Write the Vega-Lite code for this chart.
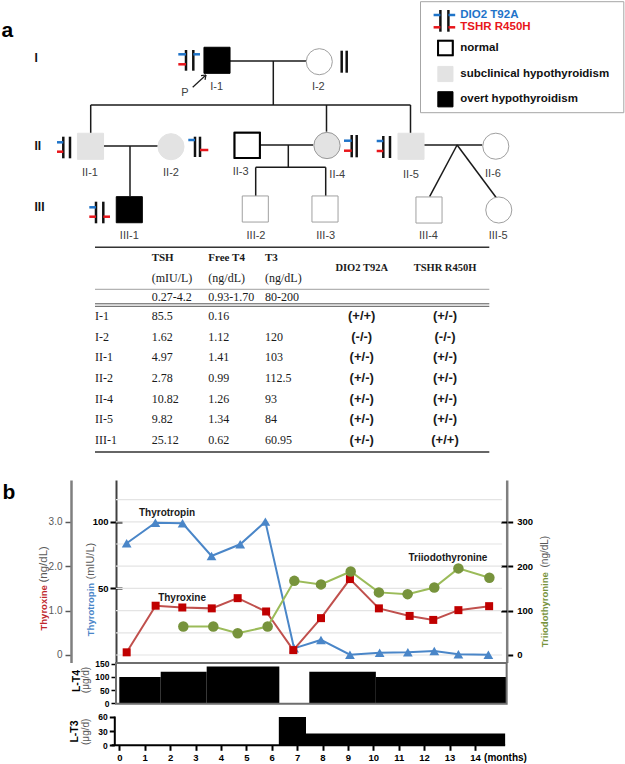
{
"$schema":"https://vega.github.io/schema/vega-lite/v6.json",
"padding":0,
"background":"white",
"config":{"view":{"stroke":null},"font":"Liberation Sans","axis":{"labelFont":"Liberation Sans","titleFont":"Liberation Sans"}},
"datasets":{
"legendBox":[{"x":420.5,"y":1.7,"x2":623.8,"y2":112.7}],
"people":[
{"id":"I-1","x":217,"y":60.3,"sex":"male","status":"overt"},
{"id":"I-2","x":319.3,"y":61.7,"sex":"female","status":"unknown"},
{"id":"II-1","x":90.5,"y":146.3,"sex":"male","status":"subclinical"},
{"id":"II-2","x":171,"y":146.7,"sex":"female","status":"subclinical"},
{"id":"II-3","x":247.2,"y":145.3,"sex":"male","status":"normal"},
{"id":"II-4","x":327,"y":145.5,"sex":"female","status":"subclinical"},
{"id":"II-5","x":411,"y":146.3,"sex":"male","status":"subclinical"},
{"id":"II-6","x":495.8,"y":146.2,"sex":"female","status":"unknown"},
{"id":"III-1","x":129.3,"y":209.7,"sex":"male","status":"overt"},
{"id":"III-2","x":255.3,"y":209,"sex":"male","status":"unknown"},
{"id":"III-3","x":325,"y":209,"sex":"male","status":"unknown"},
{"id":"III-4","x":429,"y":210,"sex":"male","status":"unknown"},
{"id":"III-5","x":498.8,"y":210,"sex":"female","status":"unknown"}],
"lines":[
{"x":230,"y":61,"x2":306,"y2":61},
{"x":273.3,"y":61,"x2":273.3,"y2":105},
{"x":90.7,"y":105,"x2":410.5,"y2":105},
{"x":90.7,"y":105,"x2":90.7,"y2":133.3},
{"x":326.5,"y":105,"x2":326.5,"y2":131.7},
{"x":410.5,"y":105,"x2":410.5,"y2":133.3},
{"x":102.7,"y":146,"x2":157.7,"y2":146},
{"x":130,"y":146,"x2":130,"y2":196},
{"x":259.3,"y":145,"x2":313.3,"y2":145},
{"x":288.3,"y":145,"x2":288.3,"y2":167.3},
{"x":255.7,"y":167.3,"x2":325.7,"y2":167.3},
{"x":255.7,"y":167.3,"x2":255.7,"y2":196},
{"x":325.7,"y":167.3,"x2":325.7,"y2":196},
{"x":423.3,"y":145,"x2":482.3,"y2":145},
{"x":457.1,"y":145,"x2":429.6,"y2":196.7},
{"x":457.1,"y":145,"x2":496.5,"y2":198}],
"bars":[
{"x":186,"y":50,"y2":70.7},{"x":193.3,"y":50,"y2":70.7},
{"x":341.7,"y":50.7,"y2":72.7},{"x":346.7,"y":50.7,"y2":72.7},
{"x":63.3,"y":136.7,"y2":158.3},{"x":70,"y":136.7,"y2":158.3},
{"x":195,"y":136.7,"y2":157},{"x":200,"y":136.7,"y2":157},
{"x":351.7,"y":135,"y2":157.3},{"x":356.7,"y":135,"y2":157.3},
{"x":383.3,"y":136,"y2":158},{"x":390,"y":136,"y2":158},
{"x":96,"y":201.7,"y2":223.3},{"x":103.3,"y":201.7,"y2":223.3},
{"x":440.4,"y":10,"y2":31.7},{"x":448.4,"y":10,"y2":31.7}],
"alleleTicks":[
{"allele":"DIO2","x":178.3,"x2":186,"y":54.3},
{"allele":"DIO2","x":193.3,"x2":200,"y":54.3},
{"allele":"TSHR","x":178.3,"x2":186,"y":64.3},
{"allele":"DIO2","x":57,"x2":63.3,"y":142.3},
{"allele":"TSHR","x":57,"x2":63.3,"y":151.7},
{"allele":"DIO2","x":188.3,"x2":195,"y":140},
{"allele":"TSHR","x":200,"x2":208.3,"y":150},
{"allele":"DIO2","x":344,"x2":351.7,"y":140.7},
{"allele":"TSHR","x":344,"x2":351.7,"y":150.7},
{"allele":"DIO2","x":376.7,"x2":383.3,"y":141},
{"allele":"TSHR","x":376.7,"x2":383.3,"y":151},
{"allele":"DIO2","x":89.3,"x2":96,"y":207.3},
{"allele":"TSHR","x":89.3,"x2":96,"y":216.7},
{"allele":"TSHR","x":103.3,"x2":110,"y":216.7},
{"allele":"DIO2","x":433.6,"x2":440.4,"y":15},
{"allele":"DIO2","x":448.4,"x2":455.2,"y":15},
{"allele":"TSHR","x":433.6,"x2":440.4,"y":27.3},
{"allele":"TSHR","x":448.4,"x2":455.2,"y":27.3}],
"arrow":[{"x":192.7,"y":87.3,"x2":206,"y2":75},{"x":206,"y":75,"x2":201,"y2":75.7},{"x":206,"y":75,"x2":205,"y2":79.9}],
"plabels":[
{"x":216.7,"y":87.3,"t":"I-1"},{"x":318.3,"y":87.3,"t":"I-2"},{"x":185,"y":92.7,"t":"P"},
{"x":90,"y":172.7,"t":"II-1"},{"x":171,"y":172.7,"t":"II-2"},{"x":240.7,"y":172.3,"t":"II-3"},{"x":337.3,"y":175,"t":"II-4"},{"x":411,"y":174.5,"t":"II-5"},{"x":493,"y":174,"t":"II-6"},
{"x":129.3,"y":236,"t":"III-1"},{"x":256,"y":236,"t":"III-2"},{"x":325.7,"y":236,"t":"III-3"},{"x":428.5,"y":236,"t":"III-4"},{"x":498.2,"y":236,"t":"III-5"}],
"gens":[{"x":34.5,"y":57.7,"t":"I"},{"x":34.5,"y":145.7,"t":"II"},{"x":34.5,"y":206.7,"t":"III"}],
"panelA":[{"x":1.5,"y":36.7,"t":"a"}],
"legendSymbols":[{"x":445.4,"y":48,"status":"normal"},{"x":445.4,"y":74,"status":"subclinical"},{"x":445.4,"y":99.3,"status":"overt"}],
"legendAllele":[{"x":460.3,"y":15,"t":"DIO2 T92A","allele":"DIO2"},{"x":460.3,"y":27.3,"t":"TSHR R450H","allele":"TSHR"}],
"legendStatusText":[{"x":460.3,"y":47.7,"t":"normal"},{"x":460.3,"y":74,"t":"subclinical hypothyroidism"},{"x":460.3,"y":99.3,"t":"overt hypothyroidism"}],
"table":[
{"id":"I-1","TSH":"85.5","FT4":"0.16","T3":"","DIO2":"(+/+)","TSHR":"(+/-)"},
{"id":"I-2","TSH":"1.62","FT4":"1.12","T3":"120","DIO2":"(-/-)","TSHR":"(-/-)"},
{"id":"II-1","TSH":"4.97","FT4":"1.41","T3":"103","DIO2":"(+/-)","TSHR":"(+/-)"},
{"id":"II-2","TSH":"2.78","FT4":"0.99","T3":"112.5","DIO2":"(+/-)","TSHR":"(+/-)"},
{"id":"II-4","TSH":"10.82","FT4":"1.26","T3":"93","DIO2":"(+/-)","TSHR":"(+/-)"},
{"id":"II-5","TSH":"9.82","FT4":"1.34","T3":"84","DIO2":"(+/-)","TSHR":"(+/-)"},
{"id":"III-1","TSH":"25.12","FT4":"0.62","T3":"60.95","DIO2":"(+/-)","TSHR":"(+/+)"}],
"headNames":[{"hl":"name","col":"TSH","t":"TSH"},{"hl":"name","col":"FT4","t":"Free T4"},{"hl":"name","col":"T3","t":"T3"}],
"headUnits":[{"hl":"unit","col":"TSH","t":"(mIU/L)"},{"hl":"unit","col":"FT4","t":"(ng/dL)"},{"hl":"unit","col":"T3","t":"(ng/dL)"},{"hl":"ref","col":"TSH","t":"0.27-4.2"},{"hl":"ref","col":"FT4","t":"0.93-1.70"},{"hl":"ref","col":"T3","t":"80-200"}],
"headGeno":[{"hl":"name","col":"DIO2","t":"DIO2 T92A"},{"hl":"name","col":"TSHR","t":"TSHR R450H"}],
"grid":[{"g":0},{"g":50},{"g":100},{"g":150},{"g":200},{"g":250},{"g":300},{"g":350}],
"tsh":[{"month":0.29,"value":83.9},{"month":1.42,"value":99.3},{"month":2.49,"value":98.9},{"month":3.63,"value":74.3},{"month":4.76,"value":83.1},{"month":5.75,"value":100.1},{"month":6.88,"value":5.0},{"month":7.94,"value":11.3},{"month":9.08,"value":0.2},{"month":10.25,"value":1.7},{"month":11.36,"value":2.0},{"month":12.4,"value":3.0},{"month":13.35,"value":0.5},{"month":14.53,"value":0.2}],
"t4":[{"month":0.29,"value":0.06},{"month":1.43,"value":1.11},{"month":2.48,"value":1.07},{"month":3.64,"value":1.05},{"month":4.66,"value":1.28},{"month":5.78,"value":0.98},{"month":6.85,"value":0.11},{"month":7.94,"value":0.83},{"month":9.08,"value":1.71},{"month":10.22,"value":1.05},{"month":11.43,"value":0.88},{"month":12.36,"value":0.79},{"month":13.35,"value":1.01},{"month":14.56,"value":1.10}],
"t3":[{"month":2.52,"value":64},{"month":3.7,"value":64},{"month":4.66,"value":49},{"month":5.84,"value":64},{"month":6.89,"value":167},{"month":7.94,"value":159},{"month":9.11,"value":188},{"month":10.22,"value":141},{"month":11.35,"value":137},{"month":12.4,"value":152},{"month":13.35,"value":195},{"month":14.57,"value":174}],
"lt4":[{"start":0,"end":1.63,"dose":100},{"start":1.63,"end":3.44,"dose":120},{"start":3.44,"end":6.3,"dose":140},{"start":7.48,"end":10.1,"dose":120},{"start":10.1,"end":15.25,"dose":100}],
"lt3":[{"start":6.28,"end":7.35,"dose":60},{"start":7.35,"end":15.19,"dose":25}]
},
"spacing":0,
"bounds":"flush",
"vconcat":[
{
"width":625,"height":244,
"encoding":{
"x":{"field":"x","type":"quantitative","scale":{"domain":[0,625],"nice":false,"zero":false},"axis":null},
"y":{"field":"y","type":"quantitative","scale":{"domain":[0,244],"nice":false,"zero":false,"reverse":true},"axis":null}},
"layer":[
{"data":{"name":"legendBox"},"mark":{"type":"rect","fill":"#ffffff","stroke":"#a6a6a6","strokeWidth":1},"encoding":{"x2":{"field":"x2"},"y2":{"field":"y2"}}},
{"data":{"name":"lines"},"mark":{"type":"rule","stroke":"#1a1a1a","strokeWidth":1.5},"encoding":{"x2":{"field":"x2"},"y2":{"field":"y2"}}},
{"data":{"name":"people"},"mark":{"type":"point","filled":true,"opacity":1,"size":680,"strokeWidth":1},
"encoding":{"shape":{"field":"sex","type":"nominal","scale":{"domain":["male","female"],"range":["square","circle"]},"legend":null},
"fill":{"field":"status","type":"nominal","scale":{"domain":["overt","subclinical","normal","unknown"],"range":["#000000","#e3e3e3","#ffffff","#ffffff"]},"legend":null},
"stroke":{"field":"status","type":"nominal","scale":{"domain":["overt","subclinical","normal","unknown"],"range":["#000000","#e3e3e3","#000000","#a0a0a0"]},"legend":null}}},
{"data":{"name":"people"},"transform":[{"filter":"datum.status === 'normal'"}],"mark":{"type":"point","shape":"square","filled":false,"opacity":1,"size":640,"stroke":"#000000","strokeWidth":2}},
{"data":{"name":"people"},"transform":[{"filter":"datum.id === 'II-4'"}],"mark":{"type":"point","shape":"circle","filled":false,"opacity":1,"size":690,"stroke":"#9a9a9a","strokeWidth":1}},
{"data":{"name":"legendSymbols"},"mark":{"type":"point","shape":"square","filled":true,"opacity":1,"size":230,"strokeWidth":1},
"encoding":{"fill":{"field":"status","type":"nominal","scale":{"domain":["overt","subclinical","normal","unknown"],"range":["#000000","#e3e3e3","#ffffff","#ffffff"]},"legend":null},
"stroke":{"field":"status","type":"nominal","scale":{"domain":["overt","subclinical","normal","unknown"],"range":["#000000","#e3e3e3","#000000","#a0a0a0"]},"legend":null}}},
{"data":{"name":"legendSymbols"},"transform":[{"filter":"datum.status === 'normal'"}],"mark":{"type":"point","shape":"square","filled":false,"opacity":1,"size":215,"stroke":"#000000","strokeWidth":2}},
{"data":{"name":"bars"},"mark":{"type":"rule","stroke":"#111111","strokeWidth":2.5},"encoding":{"y2":{"field":"y2"}}},
{"data":{"name":"alleleTicks"},"mark":{"type":"rule","strokeWidth":2.5},"encoding":{"x2":{"field":"x2"},"color":{"field":"allele","type":"nominal","scale":{"domain":["DIO2","TSHR"],"range":["#1f74c9","#e8161b"]},"legend":null}}},
{"data":{"name":"arrow"},"mark":{"type":"rule","stroke":"#1a1a1a","strokeWidth":1.2},"encoding":{"x2":{"field":"x2"},"y2":{"field":"y2"}}},
{"data":{"name":"plabels"},"mark":{"type":"text","fontSize":11,"color":"#404040","align":"center","baseline":"middle"},"encoding":{"text":{"field":"t"}}},
{"data":{"name":"gens"},"mark":{"type":"text","fontSize":12,"fontWeight":"bold","color":"#111111","align":"left","baseline":"middle"},"encoding":{"text":{"field":"t"}}},
{"data":{"name":"panelA"},"mark":{"type":"text","fontSize":21,"fontWeight":"bold","color":"#000000","align":"left","baseline":"alphabetic"},"encoding":{"text":{"field":"t"}}},
{"data":{"name":"legendAllele"},"mark":{"type":"text","fontSize":11.5,"fontWeight":"bold","align":"left","baseline":"middle"},"encoding":{"text":{"field":"t"},"color":{"field":"allele","type":"nominal","scale":{"domain":["DIO2","TSHR"],"range":["#1f74c9","#e8161b"]},"legend":null}}},
{"data":{"name":"legendStatusText"},"mark":{"type":"text","fontSize":11.5,"fontWeight":"bold","color":"#111111","align":"left","baseline":"middle"},"encoding":{"text":{"field":"t"}}}
]
},
{
"width":625,"height":236,
"layer":[
{"data":{"values":[{}]},"layer":[
{"mark":{"type":"rule","stroke":"#333333","strokeWidth":1.5},"encoding":{"x":{"datum":95,"type":"quantitative","scale":{"domain":[0,625],"nice":false,"zero":false},"axis":null},"x2":{"datum":489.3},"y":{"datum":3.3,"type":"quantitative","scale":{"domain":[0,236],"nice":false,"zero":false,"reverse":true},"axis":null}}},
{"mark":{"type":"rule","stroke":"#888888","strokeWidth":0.8},"encoding":{"x":{"datum":95,"type":"quantitative","axis":null},"x2":{"datum":489.3},"y":{"datum":45.3,"type":"quantitative","axis":null}}},
{"mark":{"type":"rule","stroke":"#555555","strokeWidth":1},"encoding":{"x":{"datum":95,"type":"quantitative","axis":null},"x2":{"datum":489.3},"y":{"datum":59.8,"type":"quantitative","axis":null}}},
{"mark":{"type":"rule","stroke":"#555555","strokeWidth":1},"encoding":{"x":{"datum":95,"type":"quantitative","axis":null},"x2":{"datum":489.3},"y":{"datum":62.3,"type":"quantitative","axis":null}}},
{"mark":{"type":"rule","stroke":"#333333","strokeWidth":1.5},"encoding":{"x":{"datum":95,"type":"quantitative","axis":null},"x2":{"datum":489.3},"y":{"datum":208,"type":"quantitative","axis":null}}}
]},
{"data":{"name":"table"},"transform":[{"fold":["id","TSH","FT4","T3"],"as":["col","val"]}],"mark":{"type":"text","font":"Liberation Serif","fontSize":12,"color":"#1a1a1a","align":"left","baseline":"middle"},
"encoding":{"x":{"field":"col","type":"nominal","scale":{"type":"point","domain":["id","TSH","FT4","T3"],"range":[95,265],"padding":0},"axis":null},
"y":{"field":"id","type":"nominal","scale":{"type":"point","domain":["I-1","I-2","II-1","II-2","II-4","II-5","III-1"],"range":[72,196],"padding":0},"axis":null},
"text":{"field":"val"}}},
{"data":{"name":"table"},"transform":[{"fold":["DIO2","TSHR"],"as":["col","val"]}],"mark":{"type":"text","font":"Liberation Sans","fontSize":13,"fontWeight":"bold","color":"#1a1a1a","align":"center","baseline":"middle"},
"encoding":{"x":{"field":"col","type":"nominal","scale":{"type":"point","domain":["DIO2","TSHR"],"range":[361.7,445],"padding":0},"axis":null},
"y":{"field":"id","type":"nominal","scale":{"type":"point","domain":["I-1","I-2","II-1","II-2","II-4","II-5","III-1"],"range":[72,196],"padding":0},"axis":null},
"text":{"field":"val"}}},
{"data":{"name":"headNames"},"mark":{"type":"text","font":"Liberation Serif","fontSize":11,"fontWeight":"bold","color":"#1a1a1a","align":"left","baseline":"middle"},
"encoding":{"x":{"field":"col","type":"nominal","scale":{"type":"point","domain":["id","TSH","FT4","T3"],"range":[95,265],"padding":0},"axis":null},
"y":{"field":"hl","type":"nominal","scale":{"type":"point","domain":["name","unit","ref"],"range":[14.3,52.7],"padding":0},"axis":null},
"text":{"field":"t"}}},
{"data":{"name":"headUnits"},"mark":{"type":"text","font":"Liberation Serif","fontSize":12,"color":"#1a1a1a","align":"left","baseline":"middle"},
"encoding":{"x":{"field":"col","type":"nominal","scale":{"type":"point","domain":["id","TSH","FT4","T3"],"range":[95,265],"padding":0},"axis":null},
"y":{"field":"hl","type":"nominal","scale":{"type":"point","domain":["name","unit","ref"],"range":[14.3,52.7],"padding":0},"axis":null},
"text":{"field":"t"}}},
{"data":{"name":"headGeno"},"mark":{"type":"text","font":"Liberation Serif","fontSize":10.5,"fontWeight":"bold","color":"#1a1a1a","align":"center","baseline":"middle","dy":10},
"encoding":{"x":{"field":"col","type":"nominal","scale":{"type":"point","domain":["DIO2","TSHR"],"range":[361.7,445],"padding":0},"axis":null},
"y":{"field":"hl","type":"nominal","scale":{"type":"point","domain":["name","unit","ref"],"range":[14.3,52.7],"padding":0},"axis":null},
"text":{"field":"t"}}}
],
"resolve":{"scale":{"x":"independent","y":"independent"}}
},
{
"width":625,"height":182.5,
"layer":[
{"data":{"name":"grid"},"mark":{"type":"rule","stroke":"#e4e4e4","strokeWidth":1.2},
"encoding":{"x":{"datum":-0.13,"type":"quantitative","scale":{"domain":[-4.697,19.909],"nice":false,"zero":false},"axis":null},"x2":{"datum":15.07},
"y":{"field":"g","type":"quantitative","scale":{"domain":[-16.9,394.1],"nice":false,"zero":false},"axis":null}}},
{"layer":[
{"data":{"name":"tsh"},"mark":{"type":"line","color":"#4a86c8","strokeWidth":2},
"encoding":{"x":{"field":"month","type":"quantitative","scale":{"domain":[-4.697,19.909],"nice":false,"zero":false},"axis":null},
"y":{"field":"value","type":"quantitative","scale":{"domain":[-5.633,131.367],"nice":false,"zero":false},
"axis":{"orient":"left","offset":-116,"values":[50,100],"grid":false,"domainColor":"#404040","domainWidth":2,"tickColor":"#000000","tickWidth":2,"tickSize":6,"labelFontSize":9.5,"labelFontWeight":"bold","labelColor":"#000000","labelPadding":2,"labelFlush":false,
"title":"Thyrotropin","titleColor":"#4a86c8","titleFontSize":9.5,"titleFontWeight":"bold","titleAngle":-90,"titleAlign":"left","titleBaseline":"middle","titleX":-26,"titleY":155.7}}}},
{"data":{"name":"tsh"},"mark":{"type":"point","shape":"triangle-up","filled":true,"size":95,"color":"#4a86c8","opacity":1},
"encoding":{"x":{"field":"month","type":"quantitative","scale":{"domain":[-4.697,19.909],"nice":false,"zero":false},"axis":null},"y":{"field":"value","type":"quantitative"}}},
{"data":{"values":[{}]},"mark":{"type":"text","text":"Thyrotropin","fontSize":10,"fontWeight":"bold","color":"#1a1a1a","align":"center","baseline":"middle"},
"encoding":{"x":{"datum":1.88,"type":"quantitative","scale":{"domain":[-4.697,19.909],"nice":false,"zero":false},"axis":null},"y":{"datum":106.4,"type":"quantitative"}}}
]},
{"layer":[
{"data":{"name":"t4"},"mark":{"type":"line","color":"#c0504d","strokeWidth":2},
"encoding":{"x":{"field":"month","type":"quantitative","scale":{"domain":[-4.697,19.909],"nice":false,"zero":false},"axis":null},
"y":{"field":"value","type":"quantitative","scale":{"domain":[-0.169,3.941],"nice":false,"zero":false},
"axis":{"orient":"left","offset":-71,"values":[0,1,2,3],"labelExpr":"datum.value == 0 ? '0' : format(datum.value, '.1f')","grid":false,"domainColor":"#7f7f7f","domainWidth":2.5,"tickColor":"#595959","tickWidth":1.5,"tickSize":6,"labelFontSize":10,"labelColor":"#595959","labelPadding":3,"labelFlush":false,
"title":"Thyroxine","titleColor":"#c0282d","titleFontSize":9.5,"titleFontWeight":"bold","titleAngle":-90,"titleAlign":"left","titleBaseline":"middle","titleX":-28,"titleY":150}}}},
{"data":{"name":"t4"},"mark":{"type":"point","shape":"square","filled":true,"size":64,"color":"#c00000","opacity":1},
"encoding":{"x":{"field":"month","type":"quantitative","scale":{"domain":[-4.697,19.909],"nice":false,"zero":false},"axis":null},"y":{"field":"value","type":"quantitative"}}},
{"data":{"values":[{}]},"mark":{"type":"text","text":"Thyroxine","fontSize":10,"fontWeight":"bold","color":"#1a1a1a","align":"center","baseline":"middle"},
"encoding":{"x":{"datum":2.47,"type":"quantitative","scale":{"domain":[-4.697,19.909],"nice":false,"zero":false},"axis":null},"y":{"datum":1.29,"type":"quantitative"}}},
{"data":{"values":[{}]},"mark":{"type":"text","text":"b","fontSize":21,"fontWeight":"bold","color":"#000000","align":"left","baseline":"alphabetic"},
"encoding":{"x":{"datum":-4.6,"type":"quantitative","scale":{"domain":[-4.697,19.909],"nice":false,"zero":false},"axis":null},"y":{"datum":3.51,"type":"quantitative"}}}
]},
{"layer":[
{"data":{"name":"t3"},"mark":{"type":"line","color":"#9bbb59","strokeWidth":2},
"encoding":{"x":{"field":"month","type":"quantitative","scale":{"domain":[-4.697,19.909],"nice":false,"zero":false},"axis":null},
"y":{"field":"value","type":"quantitative","scale":{"domain":[-16.9,394.1],"nice":false,"zero":false},
"axis":{"orient":"right","offset":-118.3,"values":[0,100,200,300],"grid":false,"domainColor":"#7f7f7f","domainWidth":2.5,"tickColor":"#000000","tickWidth":2,"tickSize":6,"labelFontSize":9.5,"labelFontWeight":"bold","labelColor":"#000000","labelPadding":4,"labelFlush":false,
"title":"Triiodothyronine","titleColor":"#77933c","titleFontSize":9.5,"titleFontWeight":"bold","titleAngle":-90,"titleAlign":"left","titleBaseline":"middle","titleX":37.3,"titleY":166.7}}}},
{"data":{"name":"t3"},"mark":{"type":"circle","size":110,"color":"#77933c","opacity":1},
"encoding":{"x":{"field":"month","type":"quantitative","scale":{"domain":[-4.697,19.909],"nice":false,"zero":false},"axis":null},"y":{"field":"value","type":"quantitative"}}},
{"data":{"values":[{}]},"mark":{"type":"text","text":"Triiodothyronine","fontSize":10,"fontWeight":"bold","color":"#1a1a1a","align":"center","baseline":"middle"},
"encoding":{"x":{"datum":12.94,"type":"quantitative","scale":{"domain":[-4.697,19.909],"nice":false,"zero":false},"axis":null},"y":{"datum":217.7,"type":"quantitative"}}}
]},
{"data":{"values":[{"d":50}]},"mark":{"type":"point","opacity":0},
"encoding":{"x":{"datum":5,"type":"quantitative","scale":{"domain":[-4.697,19.909],"nice":false,"zero":false},"axis":null},
"y":{"field":"d","type":"quantitative","scale":{"domain":[-5.633,131.367],"nice":false,"zero":false},"axis":{"orient":"right","offset":-509,"values":[50,100],"labels":false,"domain":false,"grid":false,"tickColor":"#000000","tickWidth":2,"tickSize":6,"title":null}}}},
{"data":{"values":[{"d":100}]},"mark":{"type":"point","opacity":0},
"encoding":{"x":{"datum":5,"type":"quantitative","scale":{"domain":[-4.697,19.909],"nice":false,"zero":false},"axis":null},
"y":{"field":"d","type":"quantitative","scale":{"domain":[-16.9,394.1],"nice":false,"zero":false},"axis":{"orient":"left","offset":-506.7,"values":[100,200,300],"labels":false,"domain":false,"grid":false,"tickColor":"#000000","tickWidth":2,"tickSize":6,"title":null}}}},
{"data":{"values":[{"d":0.5}]},"mark":{"type":"point","opacity":0},
"encoding":{"x":{"datum":5,"type":"quantitative","scale":{"domain":[-4.697,19.909],"nice":false,"zero":false},"axis":null},
"y":{"field":"d","type":"quantitative","scale":{"domain":[0,1]},"axis":{"orient":"left","offset":-116,"labels":false,"ticks":false,"domain":false,"grid":false,"title":"(mIU/L)","titleColor":"#595959","titleFontSize":11,"titleFontWeight":"normal","titleAngle":-90,"titleAlign":"left","titleBaseline":"middle","titleX":-26,"titleY":99}}}},
{"data":{"values":[{"d":0.5}]},"mark":{"type":"point","opacity":0},
"encoding":{"x":{"datum":5,"type":"quantitative","scale":{"domain":[-4.697,19.909],"nice":false,"zero":false},"axis":null},
"y":{"field":"d","type":"quantitative","scale":{"domain":[0,1]},"axis":{"orient":"left","offset":-71,"labels":false,"ticks":false,"domain":false,"grid":false,"title":"(ng/dL)","titleColor":"#595959","titleFontSize":11.5,"titleFontWeight":"normal","titleAngle":-90,"titleAlign":"left","titleBaseline":"middle","titleX":-28,"titleY":102}}}},
{"data":{"values":[{"d":0.5}]},"mark":{"type":"point","opacity":0},
"encoding":{"x":{"datum":5,"type":"quantitative","scale":{"domain":[-4.697,19.909],"nice":false,"zero":false},"axis":null},
"y":{"field":"d","type":"quantitative","scale":{"domain":[0,1]},"axis":{"orient":"right","offset":-118.3,"labels":false,"ticks":false,"domain":false,"grid":false,"title":"(ng/dL)","titleColor":"#595959","titleFontSize":10,"titleFontWeight":"normal","titleAngle":-90,"titleAlign":"left","titleBaseline":"middle","titleX":37.3,"titleY":87}}}}
],
"resolve":{"scale":{"y":"independent"}}
},
{
"width":625,"height":52.5,
"layer":[
{"layer":[
{"data":{"name":"lt4"},"mark":{"type":"rect","color":"#000000"},
"encoding":{"x":{"field":"start","type":"quantitative","scale":{"domain":[-4.697,19.909],"nice":false,"zero":false},"axis":null},"x2":{"field":"end"},
"y":{"field":"dose","type":"quantitative","scale":{"domain":[-46.8,153],"nice":false,"zero":false},"axis":null},
"y2":{"datum":0}}},
{"data":{"values":[{}]},"mark":{"type":"rect","fill":"transparent","stroke":"#6e6e6e","strokeWidth":2},
"encoding":{"x":{"datum":-0.13,"type":"quantitative","scale":{"domain":[-4.697,19.909],"nice":false,"zero":false},"axis":null},"x2":{"datum":15.25},
"y":{"datum":-2.3,"type":"quantitative","axis":null},"y2":{"datum":153}}}
]},
{"data":{"values":[{"d":50}]},"mark":{"type":"point","opacity":0},
"encoding":{"x":{"datum":5,"type":"quantitative","scale":{"domain":[-4.697,19.909],"nice":false,"zero":false},"axis":null},
"y":{"field":"d","type":"quantitative","scale":{"domain":[-46.8,153],"nice":false,"zero":false},
"axis":{"orient":"left","offset":-115,"values":[0,50,100,150],"domain":false,"grid":false,"tickColor":"#000000","tickWidth":1.5,"tickSize":4,"labelFontSize":8.5,"labelFontWeight":"bold","labelColor":"#000000","labelPadding":2,"labelFlush":false,
"title":"L-T4","titleColor":"#000000","titleFontSize":10.5,"titleFontWeight":"bold","titleAngle":-90,"titleAlign":"center","titleBaseline":"middle","titleX":-39,"titleY":17.5}}}},
{"data":{"values":[{"d":0.5}]},"mark":{"type":"point","opacity":0},
"encoding":{"x":{"datum":5,"type":"quantitative","scale":{"domain":[-4.697,19.909],"nice":false,"zero":false},"axis":null},
"y":{"field":"d","type":"quantitative","scale":{"domain":[0,1]},"axis":{"orient":"left","offset":-115,"labels":false,"ticks":false,"domain":false,"grid":false,"title":"(μg/d)","titleColor":"#595959","titleFontSize":10,"titleFontWeight":"normal","titleAngle":-90,"titleAlign":"center","titleBaseline":"middle","titleX":-30,"titleY":16.5}}}}
],
"resolve":{"scale":{"y":"independent"}}
},
{
"width":625,"height":29.3,
"layer":[
{"layer":[
{"data":{"name":"lt3"},"mark":{"type":"rect","color":"#000000"},
"encoding":{"x":{"field":"start","type":"quantitative","scale":{"domain":[-4.697,19.909],"nice":false,"zero":false},"axis":null},
"x2":{"field":"end"},
"y":{"field":"dose","type":"quantitative","scale":{"domain":[0,62.1],"nice":false,"zero":false},"axis":null},
"y2":{"datum":0}}},
{"data":{"values":[{}]},"mark":{"type":"rule","stroke":"#000000","strokeWidth":2},
"encoding":{"x":{"datum":-0.3,"type":"quantitative","axis":null},"x2":{"datum":15.19},"y":{"datum":0,"type":"quantitative","axis":null}}}
]},
{"data":{"values":[{"d":30}]},"mark":{"type":"point","opacity":0},
"encoding":{"x":{"datum":5,"type":"quantitative","scale":{"domain":[-4.697,19.909],"nice":false,"zero":false},"axis":null},
"y":{"field":"d","type":"quantitative","scale":{"domain":[0,62.1],"nice":false,"zero":false},
"axis":{"orient":"left","offset":-114.3,"values":[0,30,60],"domain":true,"domainColor":"#000000","domainWidth":2,"grid":false,"tickColor":"#000000","tickWidth":2,"tickSize":5,"labelFontSize":8.5,"labelFontWeight":"bold","labelColor":"#000000","labelPadding":2,"labelFlush":false,
"title":"L-T3","titleColor":"#000000","titleFontSize":10.5,"titleFontWeight":"bold","titleAngle":-90,"titleAlign":"center","titleBaseline":"middle","titleX":-40.3,"titleY":15}}}},
{"data":{"values":[{"m":5,"d":0.5}]},"mark":{"type":"point","opacity":0},
"encoding":{"x":{"field":"m","type":"quantitative","scale":{"domain":[-4.697,19.909],"nice":false,"zero":false},
"axis":{"orient":"bottom","values":[0,1,2,3,4,5,6,7,8,9,10,11,12,13,14],"format":"d","domain":false,"grid":false,"tickColor":"#000000","tickWidth":2,"tickSize":5,"labelFontSize":9.5,"labelFontWeight":"bold","labelColor":"#000000","labelPadding":2,"labelFlush":false,
"title":"(months)","titleColor":"#000000","titleFontSize":10,"titleFontWeight":"bold","titleAlign":"center","titleBaseline":"middle","titleX":505,"titleY":12.4}},
"y":{"field":"d","type":"quantitative","scale":{"domain":[0,1]},"axis":null}}},
{"data":{"values":[{"d":0.5}]},"mark":{"type":"point","opacity":0},
"encoding":{"x":{"datum":5,"type":"quantitative","scale":{"domain":[-4.697,19.909],"nice":false,"zero":false},"axis":null},
"y":{"field":"d","type":"quantitative","scale":{"domain":[0,1]},"axis":{"orient":"left","offset":-114.3,"labels":false,"ticks":false,"domain":false,"grid":false,"title":"(μg/d)","titleColor":"#595959","titleFontSize":10,"titleFontWeight":"normal","titleAngle":-90,"titleAlign":"center","titleBaseline":"middle","titleX":-29.3,"titleY":15.3}}}}
],
"resolve":{"scale":{"y":"independent","x":"independent"}}
}
]
}
